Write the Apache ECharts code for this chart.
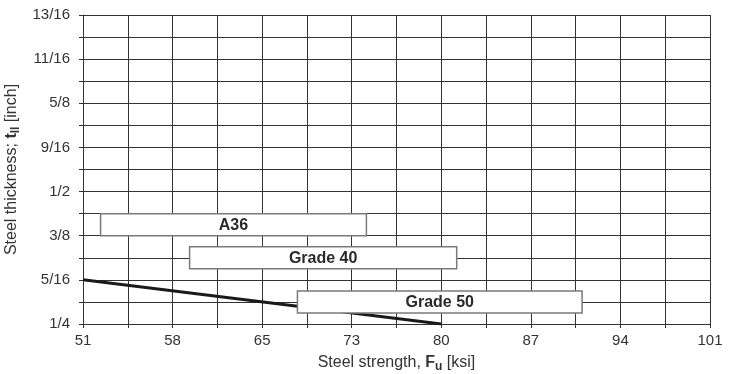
<!DOCTYPE html>
<html>
<head>
<meta charset="utf-8">
<script src="https://cdn.jsdelivr.net/npm/echarts@6/dist/echarts.min.js"></script>
<style>
  html, body { margin: 0; padding: 0; background: #fff; }
  #chart { width: 735px; height: 374px; }
</style>
</head>
<body>
<div id="chart"></div>
<script>
// Tick labels
const xTickLabels = ['51', '58', '65', '73', '80', '87', '94', '101'];
const yTickLabels = ['1/4', '5/16', '3/8', '1/2', '9/16', '5/8', '11/16', '13/16'];

// Grade boxes (x in ksi, y level in tick-index units of the thickness axis)
const grades = ['A36', 'Grade 40', 'Grade 50'];
const gradeMinKsi = [52.4, 59.5, 68.1];
const gradeMaxKsi = [73.6, 80.8, 90.8];
const gradeLevel = [2.25, 1.5, 0.5];
const gradeHalfHeight = [0.25, 0.25, 0.25];

// Limit line (x in ksi, y in tick-index units)
const lineKsi = [51, 79.57];
const lineLevel = [1, 0];

const KSI_MIN = 51, KSI_MAX = 101;
const ksiToAxis = k => (k - KSI_MIN) / ((KSI_MAX - KSI_MIN) / (xTickLabels.length - 1));

const FONT = 'Liberation Sans, Arial, sans-serif';
const chart = echarts.init(document.getElementById('chart'), null, { renderer: 'canvas' });

const boxData = grades.map((g, i) => [ksiToAxis(gradeMinKsi[i]), ksiToAxis(gradeMaxKsi[i]), gradeLevel[i], gradeHalfHeight[i], g]);
const lineData = lineKsi.map((k, i) => [ksiToAxis(k), lineLevel[i]]);

const gridColor = '#333';

chart.setOption({
  animation: false,
  backgroundColor: '#fff',
  grid: { left: 83, right: 25, top: 15, bottom: 50, containLabel: false, outerBoundsMode: 'none' },
  xAxis: {
    type: 'value',
    min: 0, max: xTickLabels.length - 1, interval: 0.5,
    name: '{n|Steel strength, }{b|F}{s|u}{n| [ksi]}',
    nameLocation: 'middle',
    nameGap: 28,
    nameTextStyle: {
      rich: {
        n: { fontFamily: FONT, fontSize: 16, color: '#333', lineHeight: 20 },
        b: { fontFamily: FONT, fontSize: 16, color: '#333', fontWeight: 'bold', lineHeight: 20 },
        s: { fontFamily: FONT, fontSize: 12, color: '#333', fontWeight: 'bold', lineHeight: 20, padding: [8, 0, 0, 0] }
      }
    },
    axisLine: { show: true, lineStyle: { color: gridColor, width: 1 } },
    axisTick: { show: true, length: 4, lineStyle: { color: gridColor } },
    splitLine: { show: true, lineStyle: { color: gridColor, width: 1 } },
    axisLabel: {
      fontFamily: FONT, fontSize: 15, color: '#333', margin: 9,
      showMinLabel: true, showMaxLabel: true,
      formatter: v => { const i = Math.round(v * 2); return i % 2 === 0 ? xTickLabels[i / 2] : ''; }
    }
  },
  yAxis: {
    type: 'value',
    min: 0, max: yTickLabels.length - 1, interval: 0.5,
    name: '{n|Steel thickness; }{b|t}{s|ll}{n| [inch]}',
    nameLocation: 'middle',
    nameRotate: 90,
    nameGap: 56,
    nameTextStyle: {
      rich: {
        n: { fontFamily: FONT, fontSize: 16, color: '#333', lineHeight: 20 },
        b: { fontFamily: FONT, fontSize: 16, color: '#333', fontWeight: 'bold', lineHeight: 20 },
        s: { fontFamily: FONT, fontSize: 12, color: '#333', fontWeight: 'bold', lineHeight: 20, padding: [8, 0, 0, 0] }
      }
    },
    axisLine: { show: true, lineStyle: { color: gridColor, width: 1 } },
    axisTick: { show: true, length: 4, lineStyle: { color: gridColor } },
    splitLine: { show: true, lineStyle: { color: gridColor, width: 1 } },
    axisLabel: {
      fontFamily: FONT, fontSize: 15, color: '#333', margin: 13,
      showMinLabel: true, showMaxLabel: true,
      formatter: v => { const i = Math.round(v * 2); return i % 2 === 0 ? yTickLabels[i / 2] : ''; }
    }
  },
  series: [
    {
      type: 'line',
      data: lineData,
      symbol: 'none',
      z: 2,
      lineStyle: { color: '#1a1a1a', width: 3 }
    },
    {
      type: 'custom',
      z: 3,
      data: boxData,
      renderItem: (params, api) => {
        const x0 = api.value(0), x1 = api.value(1), yc = api.value(2), hh = api.value(3);
        const p0 = api.coord([x0, yc + hh]);
        const p1 = api.coord([x1, yc - hh]);
        const label = boxData[params.dataIndex][4];
        return {
          type: 'group',
          children: [
            {
              type: 'rect',
              shape: { x: p0[0], y: p0[1], width: p1[0] - p0[0], height: p1[1] - p0[1] },
              style: { fill: '#fff', stroke: '#7a7a7a', lineWidth: 1.5 }
            },
            {
              type: 'text',
              style: {
                x: (p0[0] + p1[0]) / 2, y: (p0[1] + p1[1]) / 2 + 1,
                text: label, fill: '#2a2a2a',
                font: 'bold 16px ' + FONT,
                align: 'center', verticalAlign: 'middle'
              }
            }
          ]
        };
      }
    }
  ]
});
</script>
</body>
</html>
